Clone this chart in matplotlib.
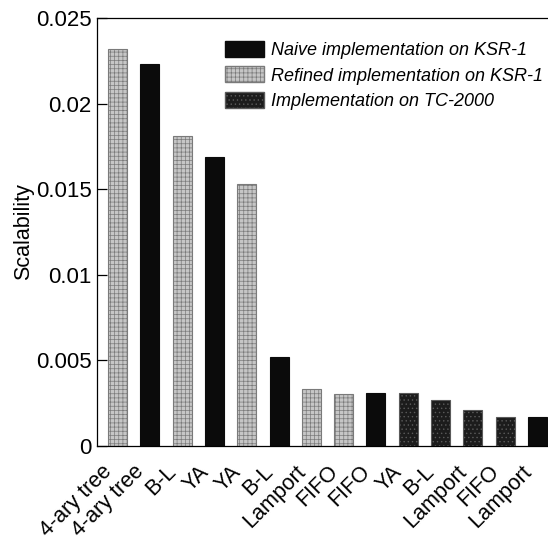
import matplotlib
matplotlib.use('agg')
import matplotlib.pyplot as plt
import matplotlib.transforms as mtransforms
from matplotlib.patches import Patch

plt.rcParams['font.family'] = ['Liberation Sans', 'DejaVu Sans']
plt.rcParams['hatch.linewidth'] = 0.5

labels = ['4-ary tree', '4-ary tree', 'B-L', 'YA', 'YA', 'B-L', 'Lamport',
          'FIFO', 'FIFO', 'YA', 'B-L', 'Lamport', 'FIFO', 'Lamport']
scalability = [0.0232, 0.0223, 0.0181, 0.0169, 0.0153, 0.0052, 0.0033,
               0.0030, 0.0031, 0.0031, 0.0027, 0.0021, 0.0017, 0.0017]
impl = ['refined', 'naive', 'refined', 'naive', 'refined', 'naive', 'refined',
        'refined', 'naive', 'tc', 'tc', 'tc', 'tc', 'naive']

styles = {
    'naive': dict(facecolor='#0b0b0b', edgecolor='#0b0b0b', hatch=None),
    'refined': dict(facecolor='#c6c6c6', edgecolor='#7a7a7a', hatch='++++'),
    'tc': dict(facecolor='#1c1c1c', edgecolor='#5a5a5a', hatch='....'),
}
legend_names = {
    'naive': 'Naive implementation on KSR-1',
    'refined': 'Refined implementation on KSR-1',
    'tc': 'Implementation on TC-2000',
}

fig = plt.figure(figsize=(5.48, 5.51), dpi=100)
ax = fig.add_axes([0.177, 0.191, 0.823, 0.776])

for i, (v, k) in enumerate(zip(scalability, impl)):
    ax.bar(i, v, width=0.59, linewidth=0.8, **styles[k])

ax.set_xlim(-0.64, 13.33)
ax.set_ylim(0, 0.025)
ax.set_yticks([0, 0.005, 0.01, 0.015, 0.02, 0.025])
ax.set_yticklabels(['0', '0.005', '0.01', '0.015', '0.02', '0.025'], fontsize=16)
ax.set_xticks(range(len(labels)))
ax.set_xticklabels(labels, rotation=45, ha='right', va='center',
                   rotation_mode='anchor', fontsize=15.5)
ax.tick_params(axis='x', length=0, pad=10)
ax.tick_params(axis='y', direction='in', length=7, width=0.9, pad=4)
ax.set_ylabel('Scalability', fontsize=15.5, labelpad=1)
ax.spines['right'].set_visible(False)
for s in ['left', 'top', 'bottom']:
    ax.spines[s].set_linewidth(0.9)

# nudge the rotated category labels down and to the left
shift = mtransforms.ScaledTranslation(-9 / 100, -9 / 100, fig.dpi_scale_trans)
for lbl in ax.get_xticklabels():
    lbl.set_transform(lbl.get_transform() + shift)

handles = [Patch(label=legend_names[k], **styles[k]) for k in ['naive', 'refined', 'tc']]
ax.legend(handles=handles, loc='upper left', bbox_to_anchor=(0.41, 0.926),
          bbox_transform=fig.transFigure, borderaxespad=0, borderpad=0,
          frameon=False, prop={'style': 'italic', 'size': 13},
          handlelength=2.2, handleheight=1.0, handletextpad=0.35, labelspacing=0.4)

fig.savefig('out.png', dpi=100)
